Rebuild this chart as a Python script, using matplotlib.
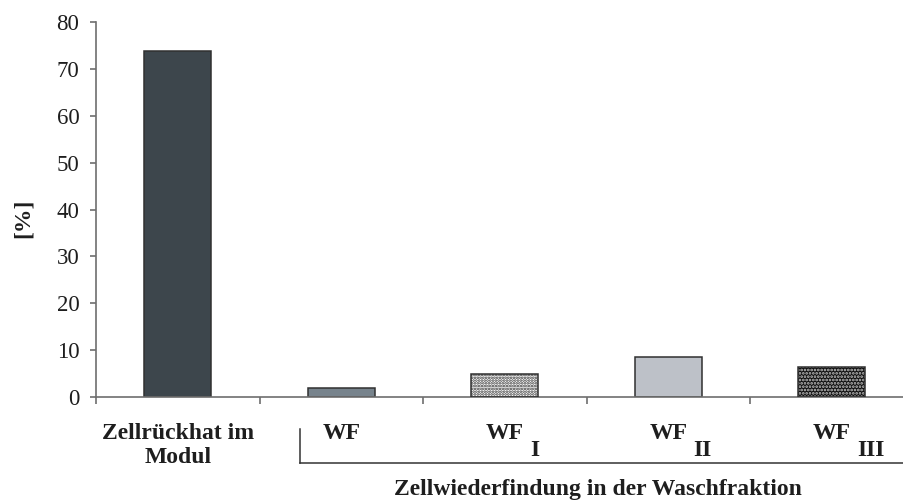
import matplotlib
matplotlib.use("Agg")
import matplotlib.pyplot as plt
from matplotlib.transforms import blended_transform_factory
from matplotlib.lines import Line2D

# Data
categories = ["Zellrückhat im\nModul", "WF", "WF", "WF", "WF"]
subscripts = ["", "", "I", "II", "III"]
values = [73.9, 1.9, 4.9, 8.4, 6.3]
y_ticks = [0, 10, 20, 30, 40, 50, 60, 70, 80]
group_label = "Zellwiederfindung in der Waschfraktion"
y_label = "[%]"

face_colors = ["#3d464c", "#77838c", "#ffffff", "#bdc1c8", "#111111"]
hatches = [None, None, "......", None, "....."]
hatch_colors = [None, None, "#333333", None, "#c4c4c4"]

plt.rcParams["hatch.linewidth"] = 1.3
serif = ["Liberation Serif", "DejaVu Serif"]
fs = 17
fs_tick = 16.5
text_color = "#1e1e1e"
axis_color = "#6e6e6e"

fig = plt.figure(figsize=(9.04, 5.0), dpi=100)
W, H = 904, 500
ax = fig.add_axes([96 / W, 1 - 396.7 / H, 817.5 / W, (396.7 - 22.3) / H])

x = [i + 0.5 for i in range(len(values))]
bar_w = 0.41
for xi, v, fc, hp, hc in zip(x, values, face_colors, hatches, hatch_colors):
    if hp:
        ax.bar(xi, v, width=bar_w, color=fc, edgecolor=hc, hatch=hp,
               linewidth=0, zorder=2)
        ax.bar(xi, v, width=bar_w, fill=False, edgecolor="#303030",
               linewidth=1.1, zorder=3)
    else:
        ax.bar(xi, v, width=bar_w, color=fc, edgecolor="#303030",
               linewidth=1.1, zorder=2)

ax.set_xlim(0, 5)
ax.set_ylim(0, 80)
ax.set_yticks(y_ticks)
ax.set_yticklabels([str(t) for t in y_ticks], family=serif, fontsize=fs_tick,
                   color=text_color)
ax.set_xticks(range(len(values)))
ax.set_xticklabels([])

for s in ["top", "right"]:
    ax.spines[s].set_visible(False)
for s in ["left", "bottom"]:
    ax.spines[s].set_color(axis_color)
    ax.spines[s].set_linewidth(1.2)
ax.tick_params(axis="y", direction="out", length=4, width=1.2,
               color=axis_color, pad=8)
ax.tick_params(axis="x", direction="out", length=5, width=1.2,
               color=axis_color)

# Category labels below the axis, one text per line
tr = blended_transform_factory(ax.transData, fig.transFigure)
base_px = 439
line_step = 24
sub_px = 456
fig.canvas.draw()
for xi, lab, sub in zip(x, categories, subscripts):
    t = None
    for k, line in enumerate(lab.split("\n")):
        t_line = ax.text(xi, 1 - (base_px + k * line_step) / H, line,
                         transform=tr, ha="center", va="baseline",
                         family=serif, fontsize=fs, fontweight="bold",
                         color=text_color)
        if k == 0:
            t = t_line
    if sub:
        bb = t.get_window_extent(renderer=fig.canvas.get_renderer())
        ax.text(bb.x1 + 6, (1 - sub_px / H) * fig.bbox.height, sub,
                transform=None, ha="left", va="baseline", family=serif,
                fontsize=fs, fontweight="bold", color=text_color)

# Bracket grouping the wash fractions
bx = (300 - 96) / 163.5
y_top = 1 - 429 / H
y_bot = 1 - 463 / H
for xs, ys in (([bx, bx], [y_top, y_bot]), ([bx, 5.2], [y_bot, y_bot])):
    fig.add_artist(Line2D(xs, ys, transform=tr, color="#333333",
                          linewidth=1.1, clip_on=False))

fig.text(598 / W, 1 - 495 / H, group_label, ha="center", va="baseline",
         family=serif, fontsize=fs, fontweight="bold", color=text_color)
fig.text(23 / W, 1 - 218 / H, y_label, ha="center", va="center",
         rotation=90, family=serif, fontsize=fs, fontweight="bold",
         color=text_color)

fig.savefig("out.png", dpi=100)
